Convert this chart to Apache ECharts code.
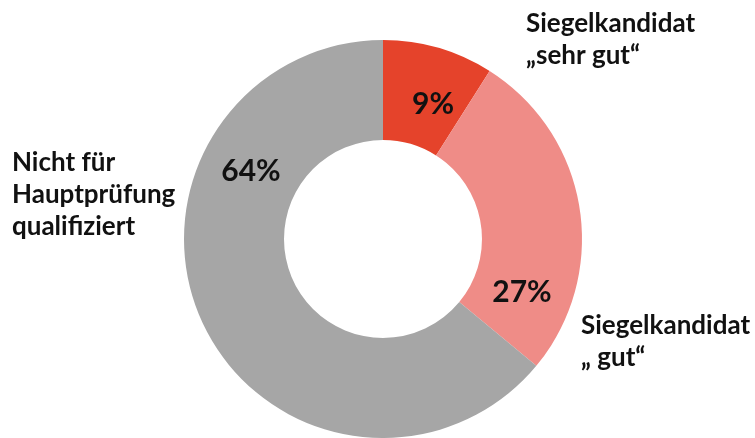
<!DOCTYPE html>
<html><head><meta charset="utf-8">
<script src="https://cdn.jsdelivr.net/npm/echarts@6/dist/echarts.min.js"></script>
<style>html,body{margin:0;padding:0;background:#fff}#c{width:755px;height:438px}</style>
</head><body><div id="c"></div>
<script>
const categories = ['Siegelkandidat\n„sehr gut“', 'Siegelkandidat\n„ gut“', 'Nicht für\nHauptprüfung\nqualifiziert'];
const values = [9, 27, 64];
const colors = ['#E5432B', '#EF8C87', '#A6A6A6'];

// label placement (layout only)
const pctPos = [[433, 104], [522, 292], [251, 171]];
const namePos = [[526, 40], [581, 342], [12, 195]];

const chart = echarts.init(document.getElementById('c'), null, {renderer: 'canvas'});
const data = categories.map((n, i) => ({name: n, value: values[i], itemStyle: {color: colors[i]}}));
const font = 'Lato';
chart.setOption({
  animation: false,
  series: [
    {
      type: 'pie', center: [383, 239], radius: [99, 199], startAngle: 90, clockwise: true,
      silent: true, data: data,
      label: {show: true, position: 'inside', formatter: p => p.value + '%', color: '#111', fontFamily: font, fontWeight: 'bold', fontSize: 30},
      labelLine: {show: false},
      labelLayout: p => ({x: pctPos[p.dataIndex][0], y: pctPos[p.dataIndex][1], align: 'center', verticalAlign: 'middle', hideOverlap: false})
    },
    {
      type: 'pie', center: [383, 239], radius: [99, 199], startAngle: 90, clockwise: true,
      silent: true, data: data.map(d => ({name: d.name, value: d.value, itemStyle: {color: 'rgba(0,0,0,0)'}})),
      label: {show: true, position: 'outside', formatter: p => p.name, color: '#111', fontFamily: font, fontWeight: 'bold', fontSize: 26, lineHeight: 32, align: 'left', overflow: 'none', width: 300},
      labelLine: {show: false},
      labelLayout: p => ({x: namePos[p.dataIndex][0], y: namePos[p.dataIndex][1], align: 'left', verticalAlign: 'middle', hideOverlap: false})
    }
  ]
});
</script></body></html>
